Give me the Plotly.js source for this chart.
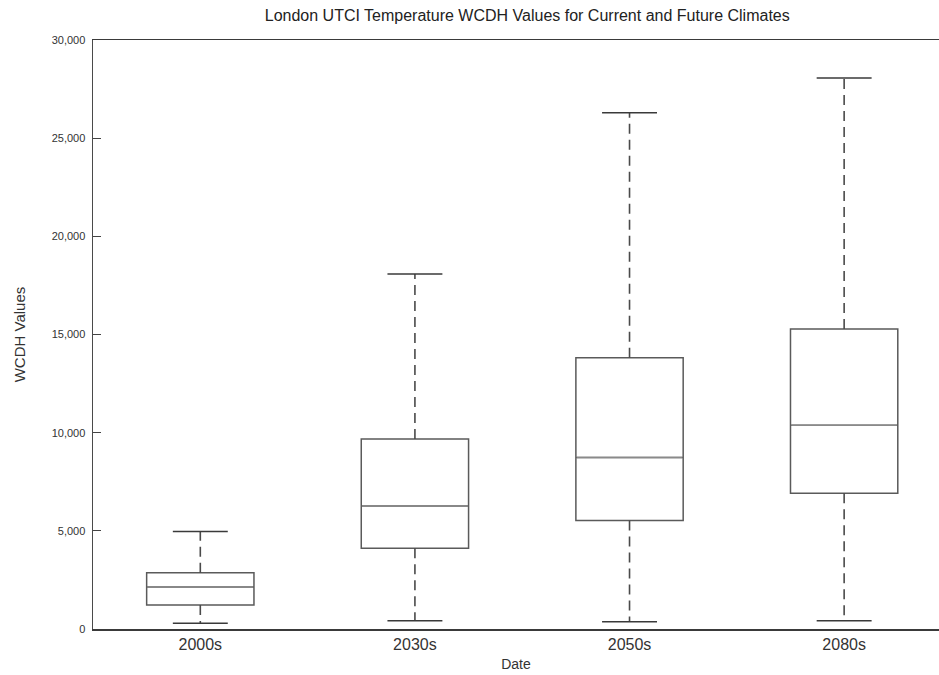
<!DOCTYPE html>
<html>
<head>
<meta charset="utf-8">
<script src="https://cdn.plot.ly/plotly-3.0.1.min.js"></script>
<style>html,body{margin:0;padding:0;background:#fff;}#chart{width:939px;height:675px;}</style>
</head>
<body>
<div id="chart"></div>
<script>
// Data
var categories = ['2000s', '2030s', '2050s', '2080s'];
var lowerWhisker = [290, 420, 370, 420];
var q1Values = [1220, 4110, 5520, 6910];
var medianValues = [2140, 6270, 8730, 10380];
var q3Values = [2870, 9680, 13820, 15280];
var upperWhisker = [4960, 18080, 26290, 28070];
var yTickValues = [0, 5000, 10000, 15000, 20000, 25000, 30000];

var positions = categories.map(function (c, i) { return i; });
var boxHalf = 0.25, capHalf = 0.128;

var traces = [];
// Boxes (fences set to the quartiles; whiskers are drawn dashed below)
traces.push({
  type: 'box',
  x: positions,
  q1: q1Values,
  median: medianValues,
  q3: q3Values,
  lowerfence: q1Values,
  upperfence: q3Values,
  width: 0.5,
  whiskerwidth: 0,
  fillcolor: 'rgba(255,255,255,0)',
  line: {color: '#5a5a5a', width: 1.5},
  hoverinfo: 'skip',
  showlegend: false
});
// Whiskers (dashed)
var wx = [], wy = [];
positions.forEach(function (p, i) {
  wx.push(p, p, null, p, p, null);
  wy.push(q3Values[i], upperWhisker[i], null, q1Values[i], lowerWhisker[i], null);
});
traces.push({
  type: 'scatter', mode: 'lines', x: wx, y: wy, connectgaps: false,
  line: {color: '#4a4a4a', width: 1.6, dash: '10px,6px'},
  hoverinfo: 'skip', showlegend: false
});
// Caps (solid)
var cx = [], cy = [];
positions.forEach(function (p, i) {
  cx.push(p - capHalf, p + capHalf, null, p - capHalf, p + capHalf, null);
  cy.push(upperWhisker[i], upperWhisker[i], null, lowerWhisker[i], lowerWhisker[i], null);
});
traces.push({
  type: 'scatter', mode: 'lines', x: cx, y: cy, connectgaps: false,
  line: {color: '#3a3a3a', width: 1.5},
  hoverinfo: 'skip', showlegend: false
});
// Medians (lighter line)
var mx = [], my = [];
positions.forEach(function (p, i) {
  mx.push(p - boxHalf + 0.004, p + boxHalf - 0.004, null);
  my.push(medianValues[i], medianValues[i], null);
});
traces.push({
  type: 'scatter', mode: 'lines', x: mx, y: my, connectgaps: false,
  line: {color: '#8a8a8a', width: 1.5},
  hoverinfo: 'skip', showlegend: false
});

var font = 'Liberation Sans, Arial, Helvetica, sans-serif';
var layout = {
  width: 939, height: 675,
  margin: {l: 93, r: 0, t: 40, b: 46, pad: 0},
  paper_bgcolor: '#ffffff', plot_bgcolor: '#ffffff',
  font: {family: font, color: '#333333'},
  title: {
    text: 'London UTCI Temperature WCDH Values for Current and Future Climates',
    font: {family: font, size: 16, color: '#222222'},
    x: 0.5615, xanchor: 'center', y: 0.977, yanchor: 'middle'
  },
  xaxis: {
    type: 'linear',
    range: [-0.5, 3.442],
    tickmode: 'array', tickvals: positions, ticktext: categories,
    ticks: '', showgrid: false, zeroline: false,
    showline: true, linecolor: '#3a3a3a', linewidth: 1.5, mirror: true,
    tickfont: {family: font, size: 16, color: '#333333'},
    title: {text: 'Date', font: {family: font, size: 14, color: '#333333'}, standoff: 7},
    automargin: false, fixedrange: true
  },
  yaxis: {
    range: [0, 30000],
    tickmode: 'array', tickvals: yTickValues, tickformat: ',d',
    ticks: 'inside', ticklen: 8, tickwidth: 1.2, tickcolor: '#444444',
    ticklabelstandoff: 4,
    showgrid: false, zeroline: false,
    showline: true, linecolor: '#4a4a4a', linewidth: 1.5,
    tickfont: {family: font, size: 11, color: '#333333'},
    title: {text: 'WCDH Values', font: {family: font, size: 15, color: '#333333'}, standoff: 22},
    automargin: false, fixedrange: true
  },
  showlegend: false
};

Plotly.newPlot('chart', traces, layout, {displayModeBar: false, staticPlot: true});
</script>
</body>
</html>
